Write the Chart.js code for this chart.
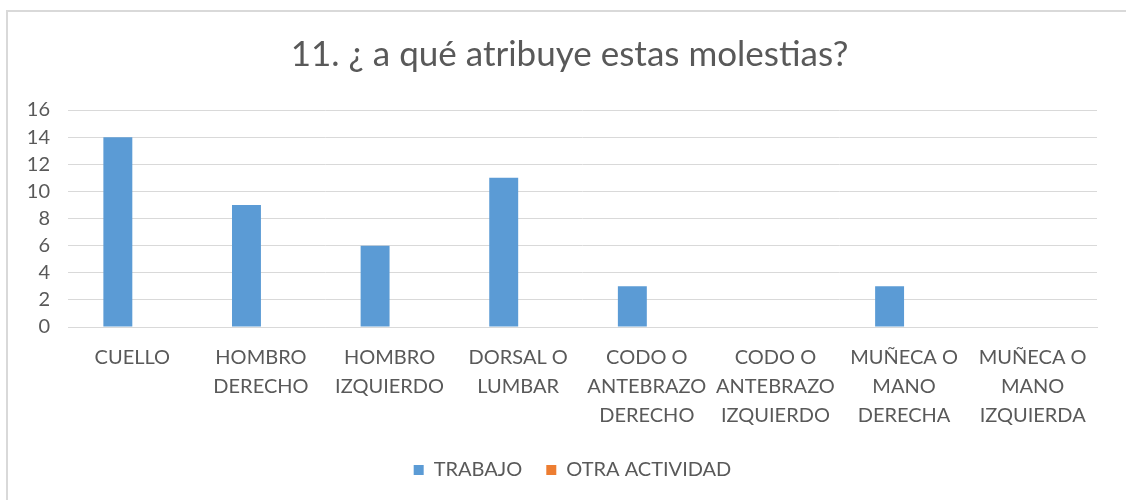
<!DOCTYPE html>
<html>
<head>
<meta charset="utf-8">
<script src="https://cdn.jsdelivr.net/npm/chart.js@4/dist/chart.umd.min.js"></script>
<style>
  html, body { margin: 0; padding: 0; background: #fff; overflow: hidden; }
  .frame { position: absolute; left: 6px; top: 10px; width: 1140px; height: 520px;
           border-left: 2px solid #d9d9d9; border-top: 2px solid #d9d9d9; }
  #wrap { position: absolute; left: 0; top: 0; width: 1126px; height: 500px; }
</style>
</head>
<body>
<div class="frame"></div>
<div id="wrap"><canvas id="chart"></canvas></div>
<script>
const titleText = '11. ¿ a qué atribuye estas molestias?';
const categories = [
  ['CUELLO'],
  ['HOMBRO', 'DERECHO'],
  ['HOMBRO', 'IZQUIERDO'],
  ['DORSAL O', 'LUMBAR'],
  ['CODO O', 'ANTEBRAZO', 'DERECHO'],
  ['CODO O', 'ANTEBRAZO', 'IZQUIERDO'],
  ['MUÑECA O', 'MANO', 'DERECHA'],
  ['MUÑECA O', 'MANO', 'IZQUIERDA']
];
const trabajo = [14, 9, 6, 11, 3, 0, 3, 0];
const otraActividad = [0, 0, 0, 0, 0, 0, 0, 0];
const yTicks = [0, 2, 4, 6, 8, 10, 12, 14, 16];

const TEXT = '#595959';
const FONT = 'Lato';

// nudge title and legend so they sit where the original ones do
const boxShift = {
  id: 'boxShift',
  afterLayout(chart) {
    const lg = chart.legend;
    if (lg) {
      lg.left += 24; lg.right += 24;
      lg.top -= 10; lg.bottom -= 10;
    }
    const tb = chart.titleBlock;
    if (tb) { tb.left += 21; tb.right += 21; }
  }
};

new Chart(document.getElementById('chart'), {
  type: 'bar',
  data: {
    labels: categories,
    datasets: [
      { label: 'TRABAJO', data: trabajo, backgroundColor: '#5B9BD5',
        categoryPercentage: 0.45, barPercentage: 1 },
      { label: 'OTRA ACTIVIDAD', data: otraActividad, backgroundColor: '#ED7D31',
        categoryPercentage: 0.45, barPercentage: 1 }
    ]
  },
  plugins: [boxShift],
  options: {
    responsive: true,
    maintainAspectRatio: false,
    animation: false,
    layout: { padding: { left: 0, right: 29, top: 0, bottom: 0 } },
    plugins: {
      title: {
        display: true,
        text: titleText,
        color: TEXT,
        font: { family: FONT, size: 35, weight: 'normal' },
        padding: { top: 34, bottom: 34 }
      },
      legend: {
        position: 'bottom',
        labels: {
          color: TEXT,
          font: { family: FONT, size: 20 },
          boxWidth: 10,
          boxHeight: 10,
          padding: 24
        }
      },
      tooltip: { enabled: false }
    },
    scales: {
      x: {
        grid: { display: false, drawTicks: false },
        border: { display: true, color: '#d9d9d9', width: 1 },
        ticks: {
          color: TEXT,
          font: { family: FONT, size: 20, lineHeight: 1.45 },
          maxRotation: 0,
          autoSkip: false,
          padding: 16
        }
      },
      y: {
        min: 0,
        max: 16,
        afterBuildTicks: s => { s.ticks = yTicks.map(v => ({ value: v })); },
        afterFit: s => { s.width = 68; },
        grid: { color: '#d9d9d9', lineWidth: 1, drawTicks: false },
        border: { display: false },
        ticks: {
          color: TEXT,
          font: { family: FONT, size: 20 },
          autoSkip: false,
          padding: 18
        }
      }
    }
  }
});
</script>
</body>
</html>
